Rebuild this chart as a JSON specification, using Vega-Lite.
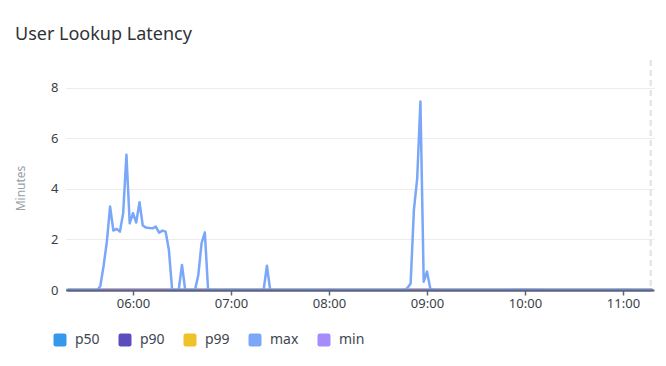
{
  "$schema": "https://vega.github.io/schema/vega-lite/v6.json",
  "width": 588,
  "height": 230,
  "autosize": {"type": "none"},
  "padding": {"left": 66, "top": 60, "right": 12, "bottom": 76},
  "background": "#ffffff",
  "title": {"text": "User Lookup Latency", "anchor": "start", "frame": "group", "dx": -51, "offset": 15, "fontSize": 18, "font": "Noto Sans", "fontWeight": "normal", "color": "#2e3338"},
  "config": {"view": {"stroke": null}, "font": "Noto Sans"},
  "datasets": {
    "now": [{"time": "2024-01-01T11:17:00"}],
    "latency": [
      {"time": "2024-01-01T05:20:00", "series": "p50", "minutes": 0},
      {"time": "2024-01-01T06:00:00", "series": "p50", "minutes": 0},
      {"time": "2024-01-01T07:00:00", "series": "p50", "minutes": 0},
      {"time": "2024-01-01T08:00:00", "series": "p50", "minutes": 0},
      {"time": "2024-01-01T09:00:00", "series": "p50", "minutes": 0},
      {"time": "2024-01-01T10:00:00", "series": "p50", "minutes": 0},
      {"time": "2024-01-01T11:00:00", "series": "p50", "minutes": 0},
      {"time": "2024-01-01T11:18:00", "series": "p50", "minutes": 0},
      {"time": "2024-01-01T05:20:00", "series": "p90", "minutes": 0},
      {"time": "2024-01-01T06:00:00", "series": "p90", "minutes": 0},
      {"time": "2024-01-01T07:00:00", "series": "p90", "minutes": 0},
      {"time": "2024-01-01T08:00:00", "series": "p90", "minutes": 0},
      {"time": "2024-01-01T09:00:00", "series": "p90", "minutes": 0},
      {"time": "2024-01-01T10:00:00", "series": "p90", "minutes": 0},
      {"time": "2024-01-01T11:00:00", "series": "p90", "minutes": 0},
      {"time": "2024-01-01T11:18:00", "series": "p90", "minutes": 0},
      {"time": "2024-01-01T05:20:00", "series": "p99", "minutes": 0},
      {"time": "2024-01-01T06:00:00", "series": "p99", "minutes": 0},
      {"time": "2024-01-01T07:00:00", "series": "p99", "minutes": 0},
      {"time": "2024-01-01T08:00:00", "series": "p99", "minutes": 0},
      {"time": "2024-01-01T09:00:00", "series": "p99", "minutes": 0},
      {"time": "2024-01-01T10:00:00", "series": "p99", "minutes": 0},
      {"time": "2024-01-01T11:00:00", "series": "p99", "minutes": 0},
      {"time": "2024-01-01T11:18:00", "series": "p99", "minutes": 0},
      {"time": "2024-01-01T05:20:00", "series": "min", "minutes": 0},
      {"time": "2024-01-01T06:00:00", "series": "min", "minutes": 0},
      {"time": "2024-01-01T07:00:00", "series": "min", "minutes": 0},
      {"time": "2024-01-01T08:00:00", "series": "min", "minutes": 0},
      {"time": "2024-01-01T09:00:00", "series": "min", "minutes": 0},
      {"time": "2024-01-01T10:00:00", "series": "min", "minutes": 0},
      {"time": "2024-01-01T11:00:00", "series": "min", "minutes": 0},
      {"time": "2024-01-01T11:18:00", "series": "min", "minutes": 0},
      {"time": "2024-01-01T05:19:00", "series": "max", "minutes": 0},
      {"time": "2024-01-01T05:30:00", "series": "max", "minutes": 0},
      {"time": "2024-01-01T05:38:00", "series": "max", "minutes": 0},
      {"time": "2024-01-01T05:40:00", "series": "max", "minutes": 0.15},
      {"time": "2024-01-01T05:42:00", "series": "max", "minutes": 0.95},
      {"time": "2024-01-01T05:44:00", "series": "max", "minutes": 1.9},
      {"time": "2024-01-01T05:46:00", "series": "max", "minutes": 3.3},
      {"time": "2024-01-01T05:48:00", "series": "max", "minutes": 2.35},
      {"time": "2024-01-01T05:50:00", "series": "max", "minutes": 2.42},
      {"time": "2024-01-01T05:52:00", "series": "max", "minutes": 2.31},
      {"time": "2024-01-01T05:54:00", "series": "max", "minutes": 3.04},
      {"time": "2024-01-01T05:56:00", "series": "max", "minutes": 5.35},
      {"time": "2024-01-01T05:58:00", "series": "max", "minutes": 2.64},
      {"time": "2024-01-01T06:00:00", "series": "max", "minutes": 3.04},
      {"time": "2024-01-01T06:02:00", "series": "max", "minutes": 2.67},
      {"time": "2024-01-01T06:04:00", "series": "max", "minutes": 3.47},
      {"time": "2024-01-01T06:06:00", "series": "max", "minutes": 2.55},
      {"time": "2024-01-01T06:08:00", "series": "max", "minutes": 2.47},
      {"time": "2024-01-01T06:10:00", "series": "max", "minutes": 2.45},
      {"time": "2024-01-01T06:12:00", "series": "max", "minutes": 2.44},
      {"time": "2024-01-01T06:14:00", "series": "max", "minutes": 2.51},
      {"time": "2024-01-01T06:16:00", "series": "max", "minutes": 2.27},
      {"time": "2024-01-01T06:18:00", "series": "max", "minutes": 2.35},
      {"time": "2024-01-01T06:20:00", "series": "max", "minutes": 2.31},
      {"time": "2024-01-01T06:22:00", "series": "max", "minutes": 1.58},
      {"time": "2024-01-01T06:24:00", "series": "max", "minutes": 0},
      {"time": "2024-01-01T06:26:00", "series": "max", "minutes": 0},
      {"time": "2024-01-01T06:28:00", "series": "max", "minutes": 0},
      {"time": "2024-01-01T06:30:00", "series": "max", "minutes": 0.99},
      {"time": "2024-01-01T06:32:00", "series": "max", "minutes": 0},
      {"time": "2024-01-01T06:34:00", "series": "max", "minutes": 0},
      {"time": "2024-01-01T06:36:00", "series": "max", "minutes": 0},
      {"time": "2024-01-01T06:38:00", "series": "max", "minutes": 0},
      {"time": "2024-01-01T06:40:00", "series": "max", "minutes": 0.59},
      {"time": "2024-01-01T06:42:00", "series": "max", "minutes": 1.85},
      {"time": "2024-01-01T06:44:00", "series": "max", "minutes": 2.28},
      {"time": "2024-01-01T06:46:00", "series": "max", "minutes": 0},
      {"time": "2024-01-01T06:50:00", "series": "max", "minutes": 0},
      {"time": "2024-01-01T07:00:00", "series": "max", "minutes": 0},
      {"time": "2024-01-01T07:10:00", "series": "max", "minutes": 0},
      {"time": "2024-01-01T07:20:00", "series": "max", "minutes": 0},
      {"time": "2024-01-01T07:22:00", "series": "max", "minutes": 0.96},
      {"time": "2024-01-01T07:24:00", "series": "max", "minutes": 0},
      {"time": "2024-01-01T07:30:00", "series": "max", "minutes": 0},
      {"time": "2024-01-01T07:40:00", "series": "max", "minutes": 0},
      {"time": "2024-01-01T07:50:00", "series": "max", "minutes": 0},
      {"time": "2024-01-01T08:00:00", "series": "max", "minutes": 0},
      {"time": "2024-01-01T08:10:00", "series": "max", "minutes": 0},
      {"time": "2024-01-01T08:20:00", "series": "max", "minutes": 0},
      {"time": "2024-01-01T08:30:00", "series": "max", "minutes": 0},
      {"time": "2024-01-01T08:40:00", "series": "max", "minutes": 0},
      {"time": "2024-01-01T08:46:00", "series": "max", "minutes": 0},
      {"time": "2024-01-01T08:48:00", "series": "max", "minutes": 0.08},
      {"time": "2024-01-01T08:50:00", "series": "max", "minutes": 0.26},
      {"time": "2024-01-01T08:52:00", "series": "max", "minutes": 3.17},
      {"time": "2024-01-01T08:54:00", "series": "max", "minutes": 4.4},
      {"time": "2024-01-01T08:56:00", "series": "max", "minutes": 7.46},
      {"time": "2024-01-01T08:58:00", "series": "max", "minutes": 0.33},
      {"time": "2024-01-01T09:00:00", "series": "max", "minutes": 0.73},
      {"time": "2024-01-01T09:02:00", "series": "max", "minutes": 0.07},
      {"time": "2024-01-01T09:04:00", "series": "max", "minutes": 0},
      {"time": "2024-01-01T09:10:00", "series": "max", "minutes": 0},
      {"time": "2024-01-01T09:20:00", "series": "max", "minutes": 0},
      {"time": "2024-01-01T09:30:00", "series": "max", "minutes": 0},
      {"time": "2024-01-01T09:40:00", "series": "max", "minutes": 0},
      {"time": "2024-01-01T09:50:00", "series": "max", "minutes": 0},
      {"time": "2024-01-01T10:00:00", "series": "max", "minutes": 0.01},
      {"time": "2024-01-01T10:10:00", "series": "max", "minutes": 0},
      {"time": "2024-01-01T10:20:00", "series": "max", "minutes": 0},
      {"time": "2024-01-01T10:30:00", "series": "max", "minutes": 0},
      {"time": "2024-01-01T10:40:00", "series": "max", "minutes": 0},
      {"time": "2024-01-01T10:50:00", "series": "max", "minutes": 0},
      {"time": "2024-01-01T11:00:00", "series": "max", "minutes": 0},
      {"time": "2024-01-01T11:10:00", "series": "max", "minutes": 0},
      {"time": "2024-01-01T11:18:00", "series": "max", "minutes": 0}
    ]
  },
  "layer": [
    {
      "data": {"name": "now"},
      "mark": {"type": "rule", "color": "#e4e6ec", "strokeWidth": 2.5, "strokeDash": [6, 4]},
      "encoding": {
        "x": {"field": "time", "type": "temporal"}
      }
    },
    {
      "data": {"name": "latency"},
      "mark": {"type": "line", "strokeWidth": 2.5, "interpolate": "linear", "strokeJoin": "round"},
      "encoding": {
        "x": {
          "field": "time",
          "type": "temporal",
          "scale": {"domain": [
            {"year": 2024, "month": 1, "date": 1, "hours": 5, "minutes": 19},
            {"year": 2024, "month": 1, "date": 1, "hours": 11, "minutes": 19}
          ]},
          "axis": {
            "title": null,
            "values": [
              {"year": 2024, "month": 1, "date": 1, "hours": 6},
              {"year": 2024, "month": 1, "date": 1, "hours": 7},
              {"year": 2024, "month": 1, "date": 1, "hours": 8},
              {"year": 2024, "month": 1, "date": 1, "hours": 9},
              {"year": 2024, "month": 1, "date": 1, "hours": 10},
              {"year": 2024, "month": 1, "date": 1, "hours": 11}
            ],
            "format": "%H:%M",
            "grid": false,
            "domainColor": "#5c6575",
            "domainWidth": 2,
            "tickColor": "#5c6575",
            "tickWidth": 1.5,
            "tickSize": 5,
            "labelPadding": 2,
            "labelFontSize": 13,
            "labelColor": "#3a3f47",
            "labelFont": "Noto Sans",
            "zindex": 1
          }
        },
        "y": {
          "field": "minutes",
          "type": "quantitative",
          "scale": {"domain": [0, 9.1], "nice": false},
          "axis": {
            "title": "Minutes",
            "values": [0, 2, 4, 6, 8],
            "grid": true,
            "gridColor": "#ececec",
            "gridWidth": 1,
            "domain": false,
            "ticks": false,
            "labelPadding": 8,
            "labelFontSize": 13,
            "labelColor": "#3a3f47",
            "labelFont": "Noto Sans",
            "titleColor": "#9aa0a8",
            "titleFontSize": 12,
            "titleFontWeight": "normal",
            "titleFont": "Noto Sans",
            "titleX": -46,
            "titleY": 128,
            "titleAlign": "center",
            "titleBaseline": "middle"
          }
        },
        "color": {
          "field": "series",
          "type": "nominal",
          "scale": {
            "domain": ["p50", "p90", "p99", "max", "min"],
            "range": ["#3598ec", "#5b4dbd", "#f0c229", "#7ba7f9", "#a68cfb"]
          },
          "legend": {
            "title": null,
            "orient": "none",
            "legendX": -13,
            "legendY": 273,
            "direction": "horizontal",
            "symbolType": "M -0.65,-1 H 0.65 Q 1,-1 1,-0.65 V 0.65 Q 1,1 0.65,1 H -0.65 Q -1,1 -1,0.65 V -0.65 Q -1,-1 -0.65,-1 Z",
            "symbolSize": 169,
            "symbolStrokeWidth": 0,
            "labelFontSize": 14,
            "labelColor": "#3e4450",
            "labelFont": "Noto Sans",
            "labelOffset": 8,
            "columnPadding": 18,
            "encode": {
              "symbols": {
                "update": {
                  "fill": {"scale": "color", "field": "value"},
                  "stroke": {"value": "transparent"},
                  "opacity": {"value": 1}
                }
              }
            }
          }
        }
      }
    }
  ]
}
